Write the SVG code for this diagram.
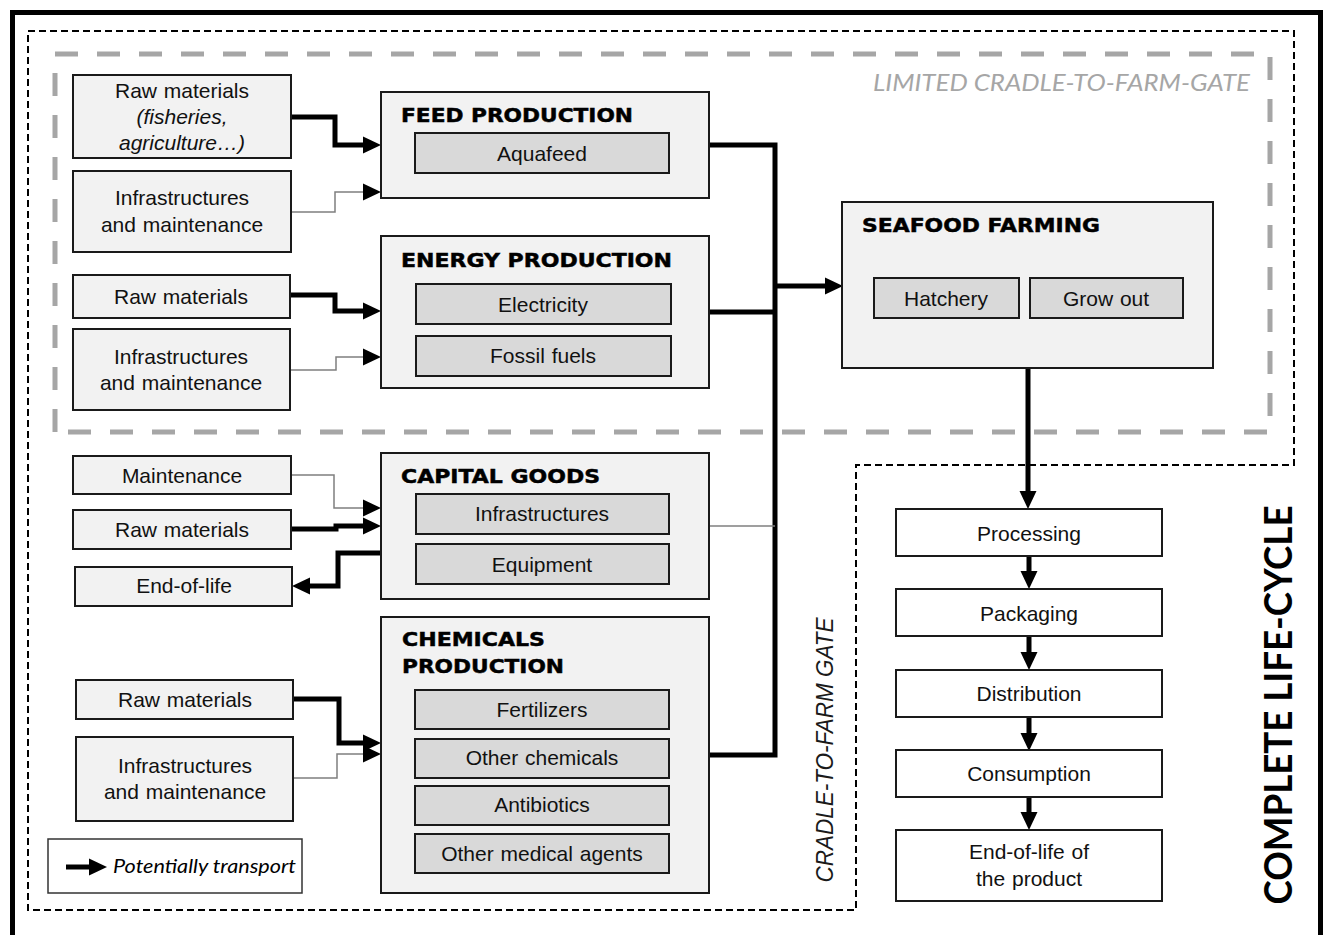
<svg xmlns="http://www.w3.org/2000/svg" width="1323" height="935" viewBox="0 0 1323 935">
<style>
.box{fill:#f2f2f2;stroke:#1a1a1a;stroke-width:2}
.sub{fill:#d9d9d9;stroke:#1a1a1a;stroke-width:2}
.wbox{fill:#ffffff;stroke:#1a1a1a;stroke-width:2}
.t{font-family:"Liberation Sans",Arial,sans-serif;font-size:21px;fill:#111;text-anchor:middle;word-spacing:1px}
.ti{font-style:italic}
.h{font-family:"DejaVu Sans","Liberation Sans",sans-serif;font-weight:bold;font-size:20px;fill:#000;stroke:#000;stroke-width:0.5}
.thick{fill:none;stroke:#000;stroke-width:5}
.thin{fill:none;stroke:#7f7f7f;stroke-width:1.5}
</style>
<defs>
<marker id="ah" markerUnits="userSpaceOnUse" markerWidth="18" markerHeight="18" viewBox="0 0 18 18" refX="1" refY="9" orient="auto">
<path d="M0,0.5 L18,9 L0,17.5 Z" fill="#000"/>
</marker>
</defs>
<rect width="1323" height="935" fill="#ffffff"/>
<g id="frames">
<rect x="12.5" y="12.5" width="1308" height="930" fill="none" stroke="#000" stroke-width="5"/>
<path d="M28,31 H1294 V465 H856 V910 H28 Z" fill="none" stroke="#000" stroke-width="2" stroke-dasharray="7,4"/>
<path d="M55,432 V54 H1270 V432 Z" fill="none" stroke="#a6a6a6" stroke-width="5" stroke-dasharray="23,19" stroke-linejoin="round"/>
<text x="873" y="91" font-family="Lato,'Open Sans',sans-serif" font-style="italic" font-size="23" fill="#a6a6a6" textLength="377" lengthAdjust="spacingAndGlyphs">LIMITED CRADLE-TO-FARM-GATE</text>
<text transform="translate(833,750) rotate(-90)" x="0" y="0" text-anchor="middle" font-family="'Liberation Sans',Arial,sans-serif" font-style="italic" font-size="23" fill="#1a1a1a" textLength="265" lengthAdjust="spacingAndGlyphs">CRADLE-TO-FARM GATE</text>
<text transform="translate(1292,705) rotate(-90)" x="0" y="0" text-anchor="middle" font-family="Lato,'Open Sans',sans-serif" font-weight="bold" font-size="39" fill="#000" textLength="399" lengthAdjust="spacingAndGlyphs">COMPLETE LIFE-CYCLE</text>
</g>
<g id="connectors">
<path class="thick" d="M291,117 H335 V145 H364" marker-end="url(#ah)"/>
<path class="thin" d="M291,212 H335 V192 H364" marker-end="url(#ah)"/>
<path class="thick" d="M291,295 H335 V311 H364" marker-end="url(#ah)"/>
<path class="thin" d="M291,370 H336 V357 H364" marker-end="url(#ah)"/>
<path class="thin" d="M291,475 H334 V508 H364" marker-end="url(#ah)"/>
<path class="thick" d="M291,529 H336 V526 H364" marker-end="url(#ah)"/>
<path class="thick" d="M383,553 H338 V586 H309" marker-end="url(#ah)"/>
<path class="thick" d="M294,699 H339 V743 H364" marker-end="url(#ah)"/>
<path class="thin" d="M294,778 H337 V754 H364" marker-end="url(#ah)"/>
<path class="thick" d="M709,145 H775 V755 H709"/>
<path class="thick" d="M709,312 H775"/>
<path class="thin" d="M709,526 H775"/>
<path class="thick" d="M775,286 H826" marker-end="url(#ah)"/>
<path class="thick" d="M1028,368 V492" marker-end="url(#ah)"/>
<path class="thick" d="M1029,556 V572" marker-end="url(#ah)"/>
<path class="thick" d="M1029,636 V653" marker-end="url(#ah)"/>
<path class="thick" d="M1029,717 V734" marker-end="url(#ah)"/>
<path class="thick" d="M1029,797 V813" marker-end="url(#ah)"/>
</g>
<g id="raw-feed">
<rect class="box" x="73" y="75" width="218" height="83"/>
<text class="t" x="182" y="98">Raw materials</text>
<text class="t ti" x="182" y="124">(fisheries,</text>
<text class="t ti" x="182" y="150">agriculture…)</text>
</g>
<g id="infra-feed">
<rect class="box" x="73" y="171" width="218" height="81"/>
<text class="t" x="182" y="205">Infrastructures</text>
<text class="t" x="182" y="232">and maintenance</text>
</g>
<g id="raw-energy">
<rect class="box" x="73" y="275" width="217" height="43"/>
<text class="t" x="181" y="304">Raw materials</text>
</g>
<g id="infra-energy">
<rect class="box" x="73" y="329" width="217" height="81"/>
<text class="t" x="181" y="364">Infrastructures</text>
<text class="t" x="181" y="390">and maintenance</text>
</g>
<g id="maintenance">
<rect class="box" x="73" y="456" width="218" height="38"/>
<text class="t" x="182" y="483">Maintenance</text>
</g>
<g id="raw-capital">
<rect class="box" x="73" y="510" width="218" height="39"/>
<text class="t" x="182" y="537">Raw materials</text>
</g>
<g id="eol-capital">
<rect class="box" x="75" y="567" width="217" height="39"/>
<text class="t" x="184" y="593">End-of-life</text>
</g>
<g id="raw-chem">
<rect class="box" x="76" y="680" width="217" height="39"/>
<text class="t" x="185" y="707">Raw materials</text>
</g>
<g id="infra-chem">
<rect class="box" x="76" y="737" width="217" height="84"/>
<text class="t" x="185" y="773">Infrastructures</text>
<text class="t" x="185" y="799">and maintenance</text>
</g>
<g id="legend">
<rect x="48" y="839" width="254" height="54" fill="#fff" stroke="#333" stroke-width="1.5"/>
<path class="thick" d="M66,867 H90" marker-end="url(#ah)"/>
<text x="113" y="873" font-family="Lato,'Open Sans',sans-serif" font-style="italic" font-size="20" fill="#000" textLength="183" lengthAdjust="spacingAndGlyphs">Potentially transport</text>
</g>
<g id="feed-production">
<rect class="box" x="381" y="92" width="328" height="106"/>
<text class="h" x="401" y="122" textLength="232" lengthAdjust="spacingAndGlyphs">FEED PRODUCTION</text>
<rect class="sub" x="415" y="133" width="254" height="40"/>
<text class="t" x="542" y="161">Aquafeed</text>
</g>
<g id="energy-production">
<rect class="box" x="381" y="236" width="328" height="152"/>
<text class="h" x="401" y="267" textLength="271" lengthAdjust="spacingAndGlyphs">ENERGY PRODUCTION</text>
<rect class="sub" x="416" y="284" width="255" height="40"/>
<text class="t" x="543" y="312">Electricity</text>
<rect class="sub" x="416" y="336" width="255" height="40"/>
<text class="t" x="543" y="363">Fossil fuels</text>
</g>
<g id="capital-goods">
<rect class="box" x="381" y="453" width="328" height="146"/>
<text class="h" x="401" y="483" textLength="199" lengthAdjust="spacingAndGlyphs">CAPITAL GOODS</text>
<rect class="sub" x="416" y="494" width="253" height="40"/>
<text class="t" x="542" y="521">Infrastructures</text>
<rect class="sub" x="416" y="544" width="253" height="40"/>
<text class="t" x="542" y="572">Equipment</text>
</g>
<g id="chemicals-production">
<rect class="box" x="381" y="617" width="328" height="276"/>
<text class="h" x="402" y="646" textLength="143" lengthAdjust="spacingAndGlyphs">CHEMICALS</text>
<text class="h" x="402" y="673" textLength="162" lengthAdjust="spacingAndGlyphs">PRODUCTION</text>
<rect class="sub" x="415" y="690" width="254" height="39"/>
<text class="t" x="542" y="717">Fertilizers</text>
<rect class="sub" x="415" y="739" width="254" height="39"/>
<text class="t" x="542" y="765">Other chemicals</text>
<rect class="sub" x="415" y="786" width="254" height="39"/>
<text class="t" x="542" y="812">Antibiotics</text>
<rect class="sub" x="415" y="834" width="254" height="39"/>
<text class="t" x="542" y="861">Other medical agents</text>
</g>
<g id="seafood-farming">
<rect class="box" x="842" y="202" width="371" height="166"/>
<text class="h" x="862" y="232" textLength="238" lengthAdjust="spacingAndGlyphs">SEAFOOD FARMING</text>
<rect class="sub" x="874" y="278" width="145" height="40"/>
<text class="t" x="946" y="306">Hatchery</text>
<rect class="sub" x="1030" y="278" width="153" height="40"/>
<text class="t" x="1106" y="306">Grow out</text>
</g>
<g id="processing">
<rect class="wbox" x="896" y="509" width="266" height="47"/>
<text class="t" x="1029" y="541">Processing</text>
</g>
<g id="packaging">
<rect class="wbox" x="896" y="589" width="266" height="47"/>
<text class="t" x="1029" y="621">Packaging</text>
</g>
<g id="distribution">
<rect class="wbox" x="896" y="670" width="266" height="47"/>
<text class="t" x="1029" y="701">Distribution</text>
</g>
<g id="consumption">
<rect class="wbox" x="896" y="750" width="266" height="47"/>
<text class="t" x="1029" y="781">Consumption</text>
</g>
<g id="end-of-life-product">
<rect class="wbox" x="896" y="830" width="266" height="71"/>
<text class="t" x="1029" y="859">End-of-life of</text>
<text class="t" x="1029" y="886">the product</text>
</g>
</svg>
